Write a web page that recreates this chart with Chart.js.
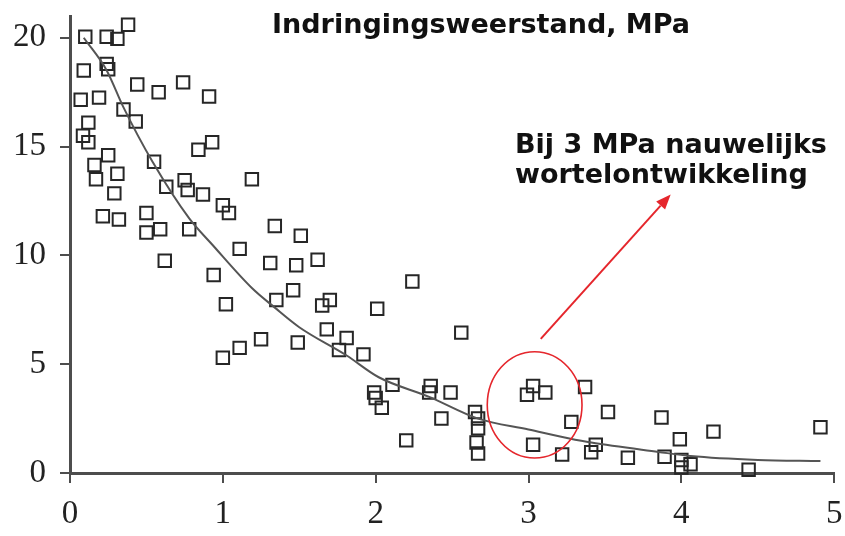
<!DOCTYPE html>
<html>
<head>
<meta charset="utf-8">
<script src="https://cdn.jsdelivr.net/npm/chart.js@4/dist/chart.umd.min.js"></script>
<style>
  html, body { margin: 0; padding: 0; background: #fff; }
  #wrap { width: 845px; height: 536px; }
</style>
</head>
<body>
<div id="wrap"><canvas id="c" width="845" height="536"></canvas></div>
<script>
// Penetration resistance (MPa) of each measurement
const resistance = [
  0.10, 0.24, 0.31, 0.38, 0.09, 0.24, 0.25, 0.44, 0.58, 0.74,
  0.91, 0.07, 0.19, 0.35, 0.43, 0.12, 0.085, 0.12, 0.25, 0.16,
  0.17, 0.31, 0.29, 0.215, 0.32, 0.50, 0.50, 0.59, 0.55, 0.63,
  0.75, 0.77, 0.87, 1.00, 1.04, 0.78, 0.84, 0.93, 1.19, 1.34,
  1.51, 0.62, 0.94, 1.02, 1.11, 1.31, 1.48, 1.62, 1.46, 1.35,
  1.65, 1.70, 1.68, 1.81, 1.76, 1.00, 1.11, 1.25, 1.49, 1.92,
  2.24, 2.01, 2.56, 1.99, 2.00, 2.04, 2.11, 2.20, 2.36, 2.35,
  2.49, 2.43, 2.65, 2.67, 2.67, 2.66, 2.67, 2.99, 3.03, 3.11,
  3.03, 3.22, 3.28, 3.37, 3.52, 3.44, 3.41, 3.65, 3.87, 3.89,
  3.99, 4.00, 4.00, 4.06, 4.21, 4.44, 4.91
];
// Root development measured at each point
const rootGrowth = [
  20.05, 20.05, 19.95, 20.6, 18.5, 18.8, 18.55, 17.85, 17.5, 17.95,
  17.3, 17.15, 17.25, 16.7, 16.15, 16.1, 15.5, 15.2, 14.6, 14.15,
  13.5, 13.75, 12.85, 11.8, 11.65, 11.95, 11.05, 11.2, 14.3, 13.15,
  13.45, 13.0, 12.8, 12.3, 11.95, 11.2, 14.85, 15.2, 13.5, 11.35,
  10.9, 9.75, 9.1, 7.75, 10.3, 9.65, 9.55, 9.8, 8.4, 7.95,
  7.7, 7.95, 6.6, 6.2, 5.65, 5.3, 5.75, 6.15, 6.0, 5.45,
  8.8, 7.55, 6.45, 3.7, 3.45, 3.0, 4.05, 1.5, 4.0, 3.7,
  3.7, 2.5, 2.8, 2.5, 2.05, 1.4, 0.9, 3.6, 4.0, 3.7,
  1.3, 0.85, 2.35, 3.95, 2.8, 1.3, 0.95, 0.7, 2.55, 0.75,
  1.55, 0.6, 0.25, 0.4, 1.9, 0.15, 2.1
];
// Fitted trend line
const fitResistance = [0.09, 0.24, 0.35, 0.54, 0.78, 0.93, 1.19, 1.34, 1.50, 1.81, 2.02, 2.35, 2.67, 3.00, 3.26, 3.41, 3.85, 4.06, 4.50, 4.91];
const fitGrowth     = [20.0, 18.5, 16.8, 14.3, 11.7, 10.5, 8.5,  7.6,  6.7,  5.4,  4.4,  3.5,  2.5,  2.0,  1.6,  1.4,  0.97, 0.78, 0.6,  0.55];

const xTicks = [0, 1, 2, 3, 4, 5];
const yTicks = [0, 5, 10, 15, 20];

const titleText = 'Indringingsweerstand, MPa';
const noteLines = ['Bij 3 MPa nauwelijks', 'wortelontwikkeling'];

const AXIS = '#4d4d4d';
const RED = '#e5262c';

// Ellipse round the 3 MPa cluster, arrow to the note, and the texts
const overlay = {
  id: 'overlay',
  afterDatasetsDraw(chart) {
    const { ctx, scales: { x, y } } = chart;
    ctx.save();

    const cx = x.getPixelForValue(3.04), cy = y.getPixelForValue(3.13);
    const rx = x.getPixelForValue(3.35) - cx;
    const ry = cy - y.getPixelForValue(5.57);
    ctx.strokeStyle = RED;
    ctx.lineWidth = 1.6;
    ctx.beginPath();
    ctx.ellipse(cx, cy, rx, ry, 0, 0, Math.PI * 2);
    ctx.stroke();

    const x0 = x.getPixelForValue(3.08), y0 = y.getPixelForValue(6.16);
    const x1 = x.getPixelForValue(3.93), y1 = y.getPixelForValue(12.8);
    const ang = Math.atan2(y1 - y0, x1 - x0);
    const headLen = 15, headW = 6;
    const bx = x1 - headLen * Math.cos(ang), by = y1 - headLen * Math.sin(ang);
    ctx.lineWidth = 2;
    ctx.beginPath();
    ctx.moveTo(x0, y0);
    ctx.lineTo(bx, by);
    ctx.stroke();
    ctx.fillStyle = RED;
    ctx.beginPath();
    ctx.moveTo(x1, y1);
    ctx.lineTo(bx + headW * Math.sin(ang), by - headW * Math.cos(ang));
    ctx.lineTo(bx - headW * Math.sin(ang), by + headW * Math.cos(ang));
    ctx.closePath();
    ctx.fill();

    ctx.fillStyle = '#111';
    ctx.font = 'bold 27px "DejaVu Sans"';
    ctx.textAlign = 'left';
    ctx.textBaseline = 'alphabetic';
    ctx.fillText(titleText, 272, 33);
    noteLines.forEach((t, i) => ctx.fillText(t, 515, 153 + 30 * i));
    ctx.restore();
  }
};

new Chart(document.getElementById('c'), {
  type: 'scatter',
  data: {
    datasets: [
      {
        type: 'line',
        data: fitResistance.map((v, i) => ({ x: v, y: fitGrowth[i] })),
        borderColor: '#555',
        borderWidth: 2,
        pointRadius: 0,
        fill: false,
        cubicInterpolationMode: 'monotone'
      },
      {
        data: resistance.map((v, i) => ({ x: v, y: rootGrowth[i] })),
        pointStyle: 'rect',
        pointRadius: 8.8,
        borderWidth: 2,
        borderColor: '#262626',
        backgroundColor: 'rgba(0,0,0,0)',
        clip: false
      }
    ]
  },
  options: {
    responsive: false,
    animation: false,
    devicePixelRatio: 1,
    layout: { padding: { top: 16, right: 5, left: 0, bottom: 0 } },
    plugins: { legend: { display: false }, tooltip: { enabled: false } },
    scales: {
      x: {
        type: 'linear', min: 0, max: 5,
        afterBuildTicks: s => { s.ticks = xTicks.map(v => ({ value: v })); },
        afterFit: s => { s.height = 63; s.paddingLeft = 0; s.paddingRight = 0; },
        grid: { drawOnChartArea: false, drawTicks: true, tickLength: 10, color: AXIS, lineWidth: 2 },
        border: { display: true, color: AXIS, width: 3 },
        ticks: { font: { family: '"Liberation Serif"', size: 33 }, color: '#222', padding: 12, maxRotation: 0 }
      },
      y: {
        type: 'linear', min: 0, max: 21,
        afterBuildTicks: s => { s.ticks = yTicks.map(v => ({ value: v })); },
        afterFit: s => { s.width = 70; s.paddingTop = 0; s.paddingBottom = 0; },
        grid: { drawOnChartArea: false, drawTicks: true, tickLength: 10, color: AXIS, lineWidth: 2 },
        border: { display: true, color: AXIS, width: 3 },
        ticks: { font: { family: '"Liberation Serif"', size: 33 }, color: '#222', padding: 14 }
      }
    }
  },
  plugins: [overlay]
});
</script>
</body>
</html>
